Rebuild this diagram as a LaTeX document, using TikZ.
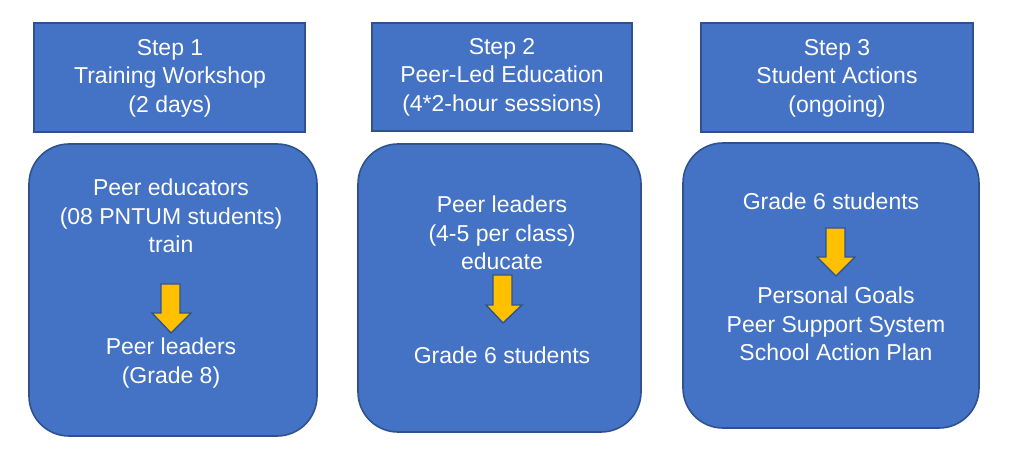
\documentclass[tikz,border=0pt]{standalone}
\usepackage{fontspec}
\setmainfont{Liberation Sans}
\definecolor{boxblue}{HTML}{4472C4}
\definecolor{edgeblue}{HTML}{2F528F}
\definecolor{arrowgold}{HTML}{FFC000}
\begin{document}
\begin{tikzpicture}[x=1pt,y=-1pt,
  txt/.style={text=white,align=center,font=\fontsize{23}{28.5}\selectfont,inner sep=0pt},
  headbox/.style={draw=edgeblue,fill=boxblue,line width=1.6pt},
  roundbox/.style={draw=edgeblue,fill=boxblue,line width=1.6pt,rounded corners=40pt},
  blockarrow/.style={draw=edgeblue,fill=arrowgold,line width=1.4pt,line join=miter}]
\useasboundingbox (0,0) rectangle (1010,457);
% headers
\draw[headbox] (34,23) rectangle (305,132);
\draw[headbox] (372,23) rectangle (632,131);
\draw[headbox] (701,23) rectangle (973,132);
% rounded boxes
\draw[roundbox] (29,144) rectangle (317,436);
\draw[roundbox] (358,144) rectangle (641,432);
\draw[roundbox] (683,143) rectangle (979,428);
% header texts
\node[txt] (h1) at (170,78) {Step 1\\Training Workshop\\(2 days)};
\node[txt] (h2) at (502,77) {Step 2\\Peer-Led Education\\(4*2-hour sessions)};
\node[txt] (h3) at (837,78) {Step 3\\Student Actions\\(ongoing)};
% box 1
\node[txt] (a1) at (171,216) {Peer educators\\(08 PNTUM students)\\train};
\node[txt] (b1) at (171,363) {Peer leaders\\(Grade 8)};
% box 2
\node[txt] (a2) at (502,233) {Peer leaders\\(4-5 per class)\\educate};
\node[txt] (b2) at (502,355) {Grade 6 students};
% box 3
\node[txt] (a3) at (831,201) {Grade 6 students};
\node[txt] (b3) at (836,324) {Personal Goals\\Peer Support System\\School Action Plan};
% block arrows
\draw[blockarrow] (161,284) -- (180,284) -- (180,313) -- (191,313) -- (171,333) -- (152,313) -- (161,313) -- cycle;
\draw[blockarrow] (493,275) -- (512,275) -- (512,305) -- (522,305) -- (503,323) -- (486,305) -- (493,305) -- cycle;
\draw[blockarrow] (826,228) -- (845,228) -- (845,257) -- (855,257) -- (836,276) -- (817,257) -- (826,257) -- cycle;
\end{tikzpicture}
\end{document}
